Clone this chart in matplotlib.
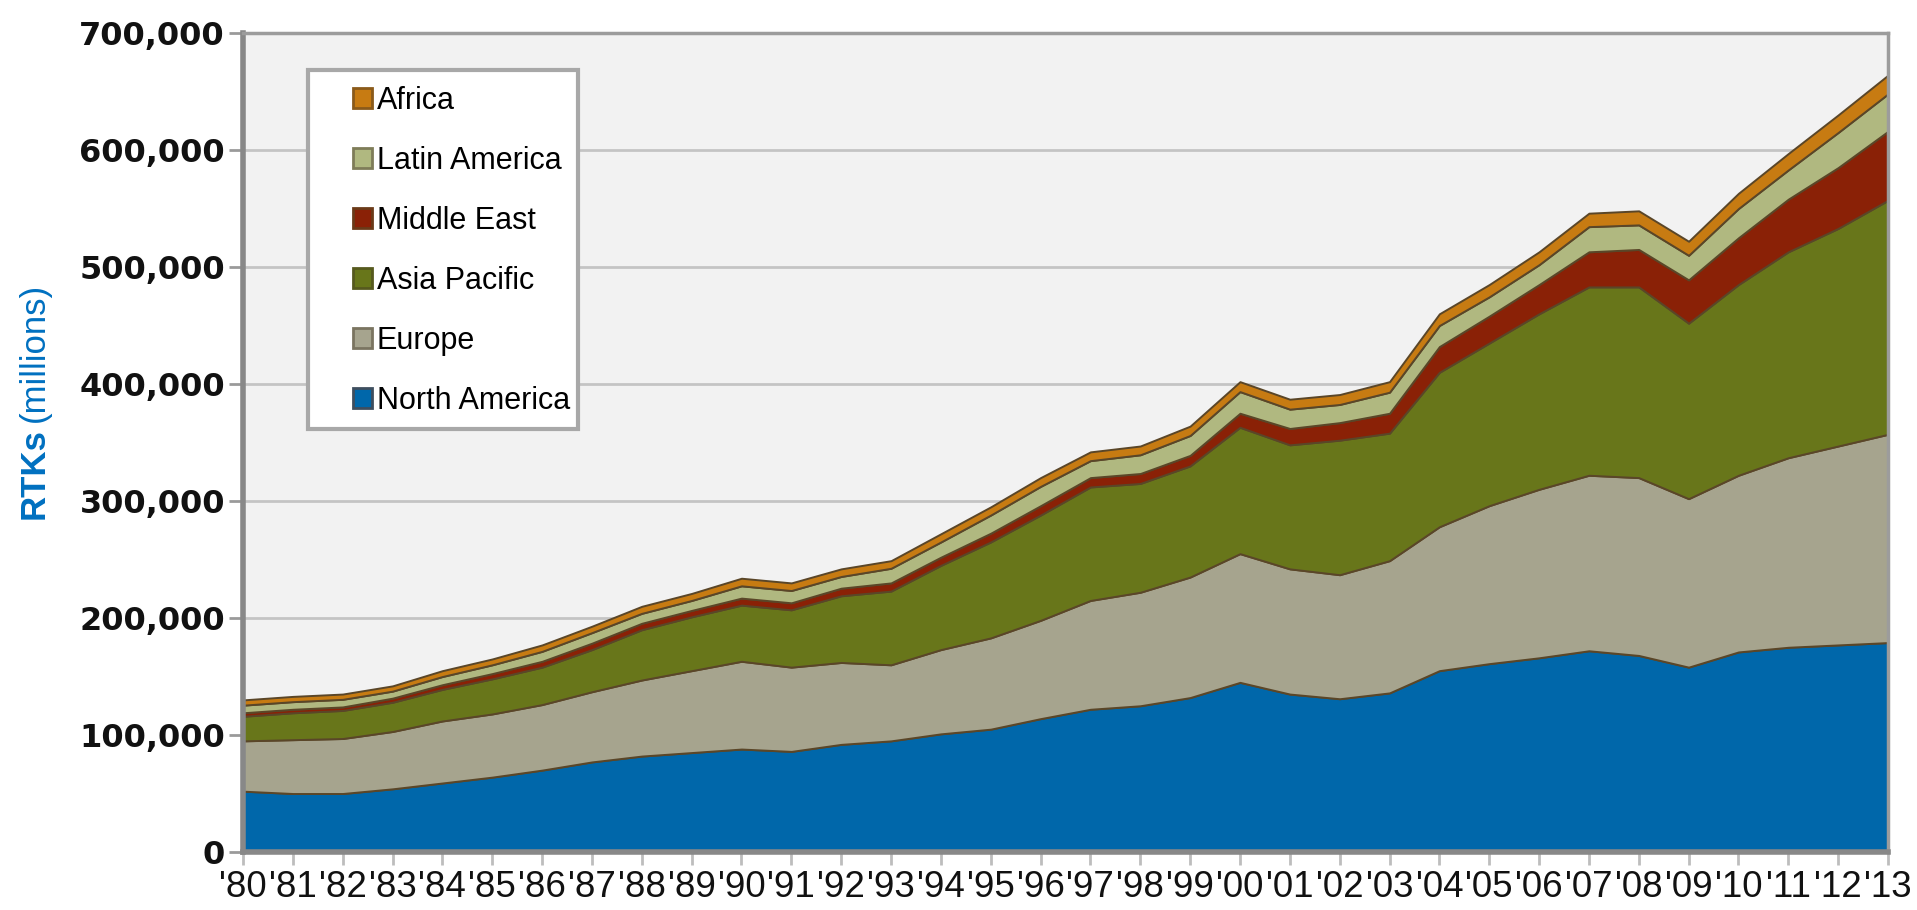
import matplotlib
matplotlib.use("Agg")
import matplotlib.pyplot as plt
from matplotlib.patches import Patch, Rectangle
from matplotlib.ticker import FuncFormatter, MultipleLocator
import numpy as np

years = list(range(1980, 2014))
year_labels = ["'%02d" % (y % 100) for y in years]

# layer thicknesses, thousands of millions RTKs
north_america = [52, 50, 50, 54, 59, 64, 70, 77, 82, 85, 88, 86, 92, 95, 101, 105, 114, 122,
                 125, 132, 145, 135, 131, 136, 155, 161, 166, 172, 168, 158, 171, 175, 177, 179]
europe = [43, 46, 47, 49, 53, 54, 56, 60, 65, 70, 75, 72, 70, 65, 72, 78, 84, 93,
          97, 103, 110, 107, 106, 113, 123, 135, 144, 150, 152, 144, 151, 162, 170, 178]
asia_pacific = [21, 23, 24, 25, 27, 30, 32, 36, 43, 46, 48, 49, 57, 63, 72, 82, 90, 97,
                93, 95, 108, 106, 115, 109, 132, 139, 150, 161, 163, 150, 163, 176, 186, 200]
middle_east = [3, 3, 3, 3.5, 4, 4.5, 5, 5.5, 5.5, 5.5, 6, 6, 6.5, 7, 7, 7.5, 8, 8,
               8.5, 9, 12, 14, 15, 17, 22, 23, 25, 30, 32, 37, 40, 45, 52, 59]
latin_america = [6.5, 6.5, 6.5, 6, 7, 7.5, 8.5, 9, 8.5, 8.5, 10.5, 10.5, 10, 12.5, 13, 15.5, 16.5, 14.5,
                 16, 17, 18.5, 16.5, 15.5, 18, 18, 16.5, 17, 21.5, 21, 21, 25, 25, 30, 32]
africa = [4.5, 4.5, 4.5, 4.5, 5, 5, 5.5, 5.5, 6, 6, 6.5, 6.5, 6.5, 6.5, 7, 7, 7.5, 7.5,
          7.5, 8, 8.5, 8.5, 8.5, 9, 10, 10.5, 11, 11.5, 12, 12, 13, 14, 15, 16]

series_names = ["North America", "Europe", "Asia Pacific", "Middle East", "Latin America", "Africa"]
series_vals = [north_america, europe, asia_pacific, middle_east, latin_america, africa]
colors = ["#0067AA", "#A6A48E", "#68761A", "#8A2106", "#B0B880", "#C77B12"]
edge_colors = ["#3E4E5E", "#7A7460", "#56591E", "#6A3A18", "#7E7C58", "#8A5A1A"]

plt.rcParams['font.family'] = ['Liberation Sans', 'DejaVu Sans']

fig = plt.figure(figsize=(19.17, 9.10), dpi=100)
W, H = 1917, 910
L, R, T, B = 243, 1888, 33, 852
ax = fig.add_axes([L / W, 1 - B / H, (R - L) / W, (B - T) / H])
ax.set_facecolor("#F2F2F2")

x = np.array(years)
vals = [np.array(v) * 1000 for v in series_vals]
ax.stackplot(x, *vals, colors=colors, edgecolor="#5A4628", linewidth=1.4, zorder=2)

ax.set_xlim(1980, 2013)
ax.set_ylim(0, 700000)
ax.yaxis.set_major_locator(MultipleLocator(100000))
ax.yaxis.set_major_formatter(FuncFormatter(lambda v, p: f"{int(v):,}"))
ax.grid(axis='y', color="#C4C4C4", linewidth=2, zorder=0)
ax.set_axisbelow(True)
ax.set_xticks(years)
ax.set_xticklabels(year_labels)

for lab in ax.get_yticklabels():
    lab.set_fontfamily('DejaVu Sans')
    lab.set_fontweight('bold')
    lab.set_fontsize(23)
    lab.set_color('#111111')
for lab in ax.get_xticklabels():
    lab.set_fontsize(26.5)
    lab.set_color('#111111')

ax.tick_params(axis='y', length=10, width=2, color="#9A9A9A", pad=3)
ax.tick_params(axis='x', length=9, width=2, color="#BDBDBD", pad=4)

for s in ['left', 'bottom']:
    ax.spines[s].set_color("#888888")
    ax.spines[s].set_linewidth(4)
for s in ['top', 'right']:
    ax.spines[s].set_color("#9C9C9C")
    ax.spines[s].set_linewidth(2.5)

# legend box
box = Rectangle((308 / W, 1 - 429 / H), (578 - 308) / W, (429 - 70) / H,
                transform=fig.transFigure, facecolor="white", edgecolor="#A8A8A8",
                linewidth=3, zorder=5)
fig.add_artist(box)
handles = [Patch(facecolor=colors[i], edgecolor=edge_colors[i], linewidth=2) for i in range(6)][::-1]
labels = series_names[::-1]
leg = fig.legend(handles, labels, loc='upper left', bbox_to_anchor=(353 / W, 1 - 86 / H),
                 frameon=False, fontsize=22, labelspacing=0.98, handlelength=0.62,
                 handleheight=0.62, handletextpad=0.15, borderpad=0, borderaxespad=0)
leg.set_zorder(6)

# y axis label
fig.canvas.draw()
fs = 25
t1 = fig.text(34 / W, 1 - 519 / H, "RTKs", rotation=90, ha='center', va='bottom',
              fontsize=fs, fontweight='bold', color="#0070C0")
fig.canvas.draw()
bb = t1.get_window_extent()
t2 = fig.text(34 / W, (bb.y1 + 6) / H, "(millions)", rotation=90, ha='center', va='bottom',
              fontsize=fs, color="#0070C0")

fig.savefig("out.png", dpi=100, facecolor="white")
